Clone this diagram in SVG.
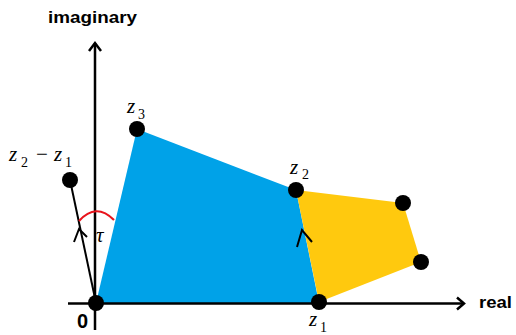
<svg xmlns="http://www.w3.org/2000/svg" width="516" height="335" viewBox="0 0 516 335">
<style>
.ax{stroke:#000;stroke-width:2.5;fill:none}
.ln{stroke:#000;stroke-width:2;fill:none}
.dot{fill:#000}
.lbl{font-family:"Liberation Sans",Arial,sans-serif;font-weight:bold;font-size:17px;fill:#000}
.z{font-family:"Liberation Serif","Times New Roman",serif;font-style:italic;font-size:21px;fill:#000}
.sub{font-family:"Liberation Serif","Times New Roman",serif;font-size:14px;fill:#000}
</style>
<rect width="516" height="335" fill="#fff"/>
<g id="blue-region"><polygon points="96,303 137,129 296,190 319,303" fill="#00A2E8"/></g>
<g id="yellow-region"><polygon points="296,190 403,203 421,262 319,302" fill="#FFC90E"/></g>
<g id="connectors">
<line class="ax" x1="68" y1="303.5" x2="464" y2="303.5"/>
<polyline class="ax" points="457,297.5 464,303.5 457,309.5"/>
<line class="ax" x1="95" y1="330" x2="95" y2="43"/>
<polyline class="ax" points="89,51 95,43 101,51"/>
<line class="ln" x1="96" y1="303" x2="70" y2="180"/>
<polyline class="ln" points="74,242 79,229 87,237"/>
<polyline class="ln" points="297,247 302,230 312,242"/>
<path d="M79,221 Q96,202 114,220" stroke="#E8141C" stroke-width="2.2" fill="none"/>
</g>
<g id="n-origin"><circle class="dot" cx="96" cy="303" r="8"/><text class="lbl" x="77" y="328" style="font-size:20px">0</text></g>
<g id="n-z1"><circle class="dot" cx="319" cy="302" r="8"/><text class="z" x="309" y="326">z</text><text class="sub" x="320" y="332">1</text></g>
<g id="n-z2"><circle class="dot" cx="296" cy="190" r="8"/><text class="z" x="290" y="174">z</text><text class="sub" x="302" y="179">2</text></g>
<g id="n-z3"><circle class="dot" cx="137" cy="129" r="8"/><text class="z" x="127" y="113">z</text><text class="sub" x="138" y="119">3</text></g>
<g id="n-p4"><circle class="dot" cx="403" cy="203" r="8"/></g>
<g id="n-p5"><circle class="dot" cx="421" cy="262" r="8"/></g>
<g id="n-diff"><circle class="dot" cx="70" cy="180" r="8"/><text class="z" x="9" y="161">z</text><text class="sub" x="21" y="167">2</text><text class="z" x="36" y="161" style="font-style:normal">−</text><text class="z" x="54" y="161">z</text><text class="sub" x="65" y="167">1</text></g>
<g id="tau"><text class="z" x="96" y="242">τ</text></g>
<text class="lbl" x="48" y="23" textLength="89" lengthAdjust="spacingAndGlyphs">imaginary</text>
<text class="lbl" x="479" y="308" textLength="33" lengthAdjust="spacingAndGlyphs">real</text>
</svg>
